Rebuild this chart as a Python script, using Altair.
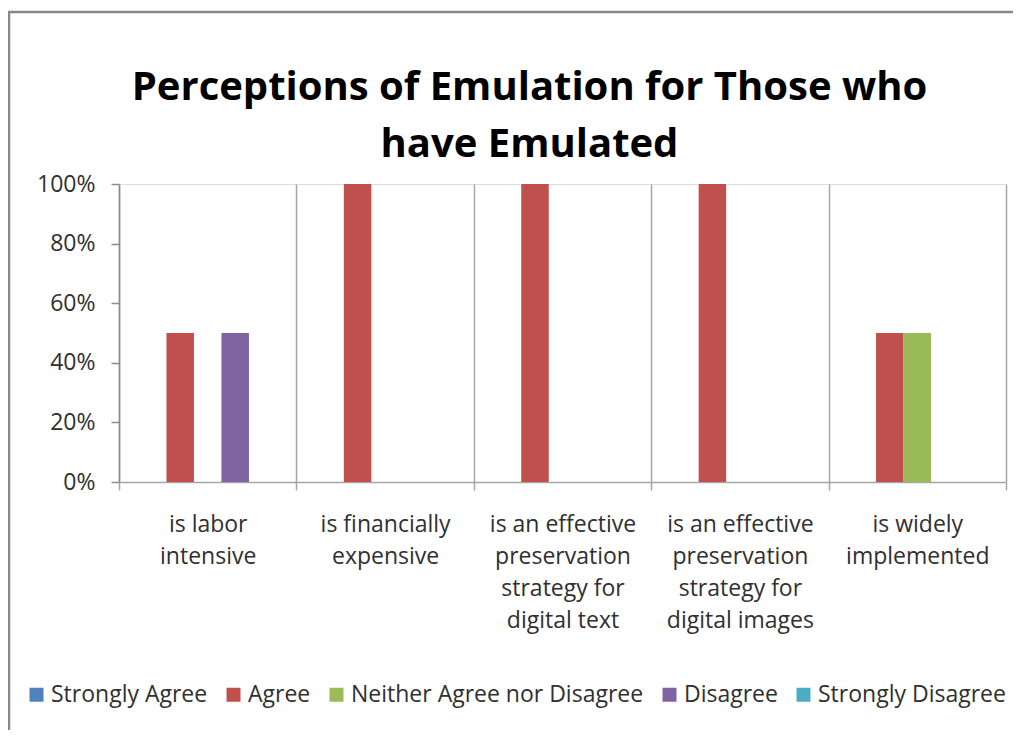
import altair as alt
import pandas as pd
import json

CATEGORY_LINES = [
    ["is labor", "intensive"],
    ["is financially", "expensive"],
    ["is an effective", "preservation", "strategy for", "digital text"],
    ["is an effective", "preservation", "strategy for", "digital images"],
    ["is widely", "implemented"],
]
CATEGORIES = [" ".join(l) for l in CATEGORY_LINES]

SERIES = ["Strongly Agree", "Agree", "Neither Agree nor Disagree", "Disagree", "Strongly Disagree"]
COLORS = ["#4F81BD", "#C0504D", "#9BBB59", "#8064A2", "#4BACC6"]

STRONGLY_AGREE = [0.0, 0.0, 0.0, 0.0, 0.0]
AGREE = [0.5, 1.0, 1.0, 1.0, 0.5]
NEITHER = [0.0, 0.0, 0.0, 0.0, 0.5]
DISAGREE = [0.5, 0.0, 0.0, 0.0, 0.0]
STRONGLY_DISAGREE = [0.0, 0.0, 0.0, 0.0, 0.0]

VALUES = [STRONGLY_AGREE, AGREE, NEITHER, DISAGREE, STRONGLY_DISAGREE]

TITLE_LINES = ["Perceptions of Emulation for Those who", "have Emulated"]

rows = []
for s, vals in zip(SERIES, VALUES):
    for c, v in zip(CATEGORIES, vals):
        rows.append({"category": c, "series": s, "value": v})
df = pd.DataFrame(rows)

FONT = "Open Sans"
label_map = {c: l for c, l in zip(CATEGORIES, CATEGORY_LINES)}
label_expr = json.dumps(label_map) + "[datum.label]"

W, H = 887, 298

bars = alt.Chart(df).mark_bar().encode(
    x=alt.X(
        "category:N",
        sort=CATEGORIES,
        scale=alt.Scale(paddingInner=0, paddingOuter=0),
        axis=alt.Axis(
            title=None,
            labelAngle=0,
            labelExpr=label_expr,
            labelFont=FONT,
            labelFontSize=23,
            labelColor="#303030",
            labelLineHeight=32,
            labelPadding=23,
            labelBaseline="top",
            tickBand="extent",
            grid=True,
            gridColor="#a6a6a6",
            gridWidth=1.5,
            domainColor="#a6a6a6",
            domainWidth=1.5,
            tickColor="#a6a6a6",
            tickWidth=1.5,
            tickSize=8,
        ),
    ),
    xOffset=alt.XOffset(
        "series:N",
        sort=SERIES,
        scale=alt.Scale(domain=SERIES, paddingInner=0, paddingOuter=0.725),
    ),
    y=alt.Y(
        "value:Q",
        scale=alt.Scale(domain=[0, 1], nice=False),
        axis=alt.Axis(
            title=None,
            format=".0%",
            values=[0, 0.2, 0.4, 0.6, 0.8, 1.0],
            labelFont=FONT,
            labelFontSize=23,
            labelColor="#303030",
            labelPadding=16,
            grid=False,
            domainColor="#8c8c8c",
            domainWidth=1.5,
            tickColor="#8c8c8c",
            tickWidth=1.5,
            tickSize=8,
        ),
    ),
    color=alt.Color(
        "series:N",
        scale=alt.Scale(domain=SERIES, range=COLORS),
        legend=alt.Legend(
            title=None,
            orient="none",
            direction="horizontal",
            legendX=-94,
            legendY=499,
            symbolType="square",
            symbolSize=196,
            symbolStrokeWidth=0,
            labelFont=FONT,
            labelFontSize=23,
            labelColor="#303030",
            labelLimit=400,
            labelOffset=3,
            columnPadding=14,
        ),
    ),
)

one = pd.DataFrame({"k": [0]})

title = alt.Chart(one).mark_text(
    text=TITLE_LINES,
    font=FONT,
    fontSize=40,
    fontWeight="bold",
    color="#000000",
    align="center",
    baseline="alphabetic",
    lineHeight=57,
).encode(x=alt.value(W / 2 - 33), y=alt.value(-84))

frame_top = alt.Chart(one).mark_rule(color="#888888", strokeWidth=2.5).encode(
    x=alt.value(-115), x2=alt.value(W + 10), y=alt.value(-172)
)
frame_left = alt.Chart(one).mark_rule(color="#888888", strokeWidth=2.5).encode(
    x=alt.value(-110), y=alt.value(-172), y2=alt.value(H + 260)
)

chart = alt.layer(bars, title, frame_top, frame_left).properties(
    width=W,
    height=H,
    autosize=alt.AutoSizeParams(type="none"),
    padding={"left": 111, "top": 176, "right": 7, "bottom": 248},
).configure_view(stroke=None).configure(background="white")

chart.save("out.html", embed_options={"renderer": "svg", "actions": False})
